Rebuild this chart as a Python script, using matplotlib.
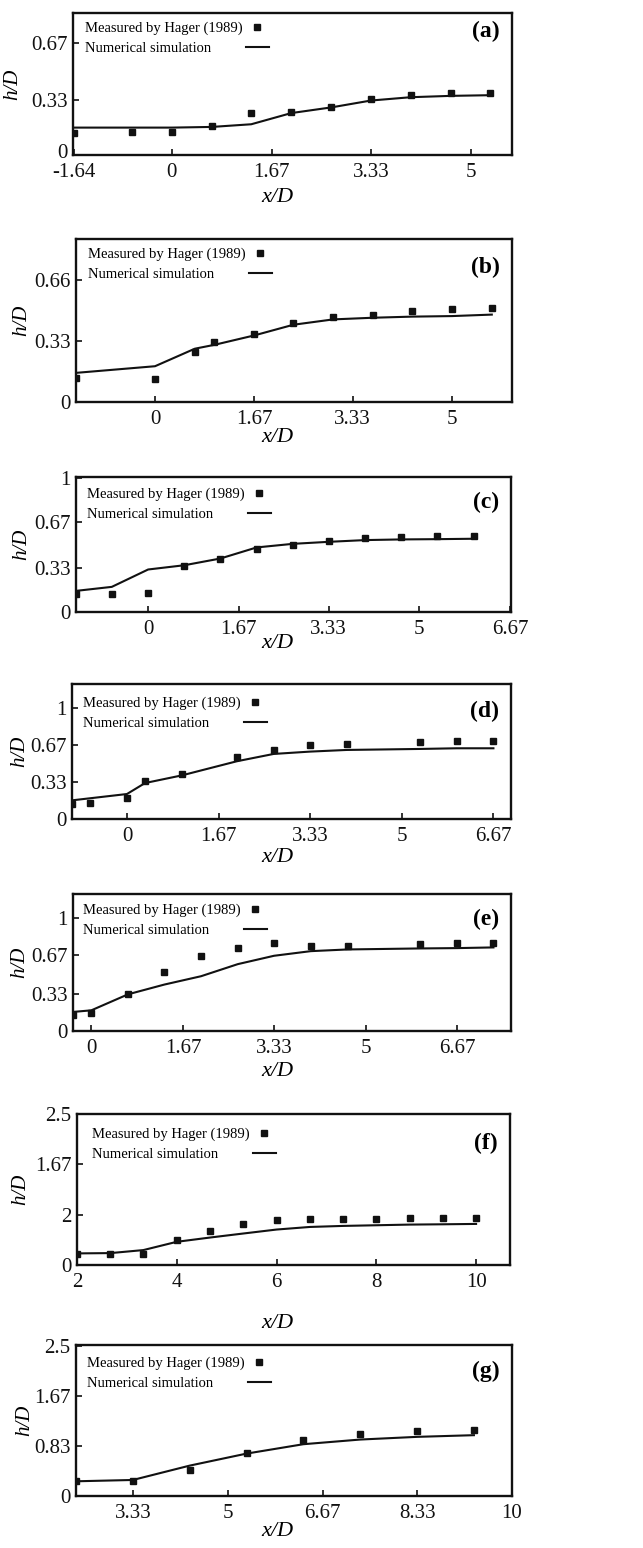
import matplotlib.pyplot as plt
from matplotlib.lines import Line2D
from matplotlib.transforms import ScaledTranslation

plt.rcParams['font.family'] = ['Liberation Serif', 'DejaVu Serif']

# ---- data (x/D, h/D) ----
# (a)
xa = [-1.64, -0.67, 0, 0.67, 1.33, 2.0, 2.67, 3.33, 4.0, 4.67, 5.33]
ha_meas = [0.132, 0.136, 0.138, 0.172, 0.251, 0.255, 0.289, 0.334, 0.360, 0.370, 0.373]
ha_sim = [0.164, 0.164, 0.164, 0.168, 0.184, 0.251, 0.285, 0.326, 0.346, 0.354, 0.358]

# (b)
xb = [-1.33, 0, 0.67, 1.0, 1.67, 2.33, 3.0, 3.67, 4.33, 5.0, 5.67]
hb_meas = [0.129, 0.125, 0.270, 0.325, 0.368, 0.430, 0.459, 0.474, 0.495, 0.506, 0.510]
hb_sim = [0.158, 0.194, 0.289, 0.310, 0.361, 0.419, 0.448, 0.457, 0.463, 0.466, 0.474]

# (c)
xc = [-1.33, -0.67, 0, 0.67, 1.33, 2.0, 2.67, 3.33, 4.0, 4.67, 5.33, 6.0]
hc_meas = [0.135, 0.135, 0.145, 0.345, 0.395, 0.470, 0.505, 0.530, 0.550, 0.563, 0.568, 0.568]
hc_sim = [0.158, 0.188, 0.318, 0.350, 0.400, 0.483, 0.510, 0.525, 0.538, 0.543, 0.545, 0.548]

# (d)
xd_meas = [-1.0, -0.67, 0, 0.33, 1.0, 2.0, 2.67, 3.33, 4.0, 5.33, 6.0, 6.67]
hd_meas = [0.138, 0.144, 0.192, 0.339, 0.405, 0.562, 0.625, 0.667, 0.676, 0.694, 0.700, 0.703]
xd_sim = [-1.0, 0, 0.33, 1.0, 2.0, 2.67, 3.33, 4.0, 5.33, 6.0, 6.67]
hd_sim = [0.168, 0.225, 0.324, 0.393, 0.520, 0.586, 0.607, 0.622, 0.631, 0.637, 0.637]

# (e)
xe = [-0.33, 0, 0.67, 1.33, 2.0, 2.67, 3.33, 4.0, 4.67, 6.0, 6.67, 7.33]
he_meas = [0.145, 0.157, 0.331, 0.524, 0.666, 0.731, 0.775, 0.749, 0.757, 0.772, 0.775, 0.781]
he_sim = [0.169, 0.183, 0.325, 0.411, 0.485, 0.592, 0.666, 0.707, 0.722, 0.731, 0.734, 0.740]

# (f)
xf = [2, 2.67, 3.33, 4, 4.67, 5.33, 6, 6.67, 7.33, 8, 8.67, 9.33, 10]
hf_meas = [0.181, 0.181, 0.186, 0.411, 0.559, 0.685, 0.740, 0.762, 0.768, 0.768, 0.773, 0.778, 0.784]
hf_sim = [0.192, 0.197, 0.247, 0.384, 0.455, 0.521, 0.587, 0.630, 0.647, 0.658, 0.669, 0.674, 0.680]

# (g)
xg = [2.33, 3.33, 4.33, 5.33, 6.33, 7.33, 8.33, 9.33]
hg_meas = [0.246, 0.257, 0.436, 0.726, 0.939, 1.045, 1.095, 1.100]
hg_sim = [0.246, 0.268, 0.508, 0.709, 0.866, 0.944, 0.989, 1.017]

# tick values and the labels printed on them
xt_a = [-1.64, 0, 1.67, 3.33, 5]
xt_b = [0, 1.67, 3.33, 5]
xt_c = [0, 1.67, 3.33, 5, 6.67]
xt_f = [2, 4, 6, 8, 10]
xt_g = [3.33, 5, 6.67, 8.33, 10]
yt_a = [0, 0.33, 0.67]
yt_b = [0, 0.33, 0.66]
yt_c = [0, 0.33, 0.67, 1]
yt_f = [0, 0.833, 1.667, 2.5]
yl_f = ['0', '2', '1.67', '2.5']
yl_g = ['0', '0.83', '1.67', '2.5']

legend_labels = ['Measured by Hager (1989)', 'Numerical simulation']

panels = [
    ('(a)', xa, ha_meas, xa, ha_sim, (-1.65, 5.69), (0, 0.85), xt_a, yt_a, None),
    ('(b)', xb, hb_meas, xb, hb_sim, (-1.33, 6.01), (0, 0.884), xt_b, yt_b, None),
    ('(c)', xc, hc_meas, xc, hc_sim, (-1.33, 6.69), (0, 1.01), xt_c, yt_c, None),
    ('(d)', xd_meas, hd_meas, xd_sim, hd_sim, (-1.0, 6.99), (0, 1.216), xt_c, yt_c, None),
    ('(e)', xe, he_meas, xe, he_sim, (-0.334, 7.65), (0, 1.213), xt_c, yt_c, None),
    ('(f)', xf, hf_meas, xf, hf_sim, (2, 10.68), (0, 2.48), xt_f, yt_f, yl_f),
    ('(g)', xg, hg_meas, xg, hg_sim, (2.33, 10.0), (0, 2.525), xt_g, yt_f, yl_g),
]

# layout in pixels: left, right, top, bottom, xlabel centre y, ylabel centre x,
# legend text left, legend first row centre y, panel tag offset below top
layout = [
    (73, 512, 13, 155, 198, 13, 85, 27, 18),
    (76, 512, 239, 402, 437, 22, 88, 253, 28),
    (76, 511, 477, 612, 643, 22, 87, 493, 25),
    (72, 511, 684, 819, 857, 20, 83, 702, 27),
    (73, 511, 894, 1031, 1071, 20, 83, 909, 25),
    (77, 510, 1114, 1265, 1324, 21, 92, 1133, 29),
    (76, 512, 1345, 1496, 1532, 25, 87, 1362, 26),
]

W, H = 643, 1548
INK = '#111111'
LEG_FS = 10.5
fig = plt.figure(figsize=(W / 100, H / 100), dpi=100)

for i, ((tag, xm, hm, xs, hs, xlim, ylim, xt, yt, ytl),
        (l, r, t, b, xly, ylx, lgx, lgy, tagdy)) in enumerate(zip(panels, layout)):
    ax = fig.add_axes([l / W, 1 - b / H, (r - l) / W, (b - t) / H])
    w, h = r - l, b - t

    line, = ax.plot(xs, hs, color=INK, lw=1.5)
    pts, = ax.plot(xm, hm, ls='none', marker='s', ms=5, color=INK)

    ax.set_xlim(*xlim)
    ax.set_ylim(*ylim)
    ax.set_xticks(xt)
    ax.set_xticklabels([('%g' % v) for v in xt])
    ax.set_yticks(yt)
    ax.set_yticklabels(ytl if ytl else [('%g' % v) for v in yt])
    ax.tick_params(direction='in', length=4, width=1.2, labelsize=15,
                   colors=INK)
    ax.tick_params(axis='x', pad=6)
    ax.tick_params(axis='y', pad=4)

    if i == 0:
        # lift the corner "0" a little so it clears "-1.64"
        lab0 = ax.get_yticklabels()[0]
        lab0.set_transform(lab0.get_transform() +
                           ScaledTranslation(0, 4 / 100, fig.dpi_scale_trans))

    for sp in ax.spines.values():
        sp.set_linewidth(1.7)
        sp.set_color(INK)

    ax.set_xlabel('x/D', fontsize=16, fontstyle='italic', va='center')
    ax.xaxis.set_label_coords((277 - l) / w, (b - xly) / h)
    ax.set_ylabel('h/D', fontsize=15, fontstyle='italic', va='center')
    ax.yaxis.set_label_coords((ylx - l) / w, 0.5)

    # two-column legend: left-aligned texts, then the keys in a column of their own
    blank = Line2D([], [], ls='none')
    hl, pad = 1.6, 0.3
    shift = (hl + pad) * LEG_FS * 100 / 72
    ax.legend([blank, blank, pts, line], legend_labels + ['', ''], ncol=2,
              loc='upper left',
              bbox_to_anchor=((lgx - shift - l) / w, 1 - (lgy - t - 5) / h),
              frameon=False, fontsize=LEG_FS, borderpad=0, borderaxespad=0,
              handlelength=hl, handletextpad=pad, columnspacing=0.2,
              labelspacing=0.45, numpoints=1)

    ax.annotate(tag, xy=(1, 1), xycoords='axes fraction', xytext=(-12, -tagdy),
                textcoords='offset pixels', ha='right', va='center',
                fontsize=17, fontweight='bold')

fig.savefig('out.png', dpi=100)
